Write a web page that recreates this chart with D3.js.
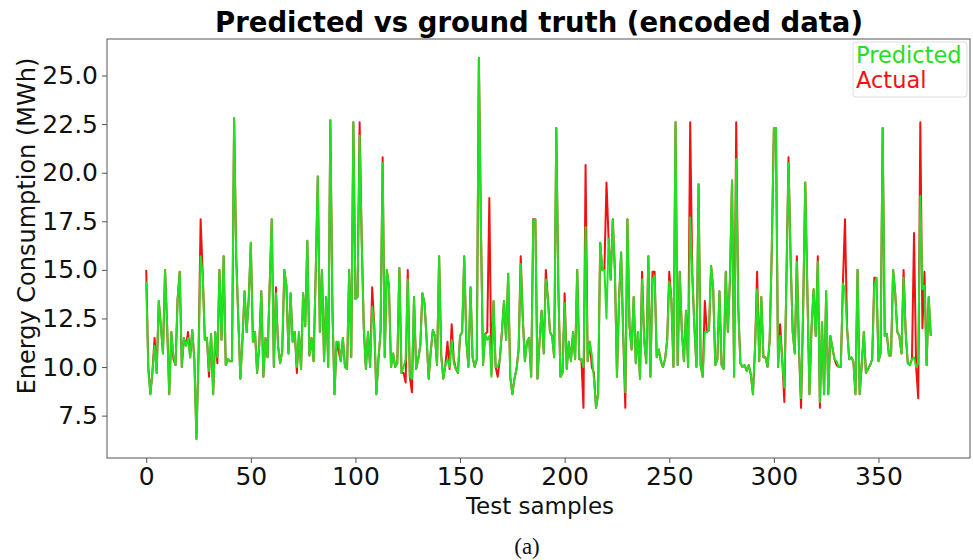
<!DOCTYPE html>
<html><head><meta charset="utf-8">
<script src="https://cdn.jsdelivr.net/npm/d3@7"></script>
<style>body{margin:0;background:#fff}svg{display:block}</style>
</head><body><svg id="c" width="973" height="560"></svg>
<script>
const actual = [
15.0,10.0,8.6,9.8,11.5,9.7,13.4,12.1,10.7,15.0,12.1,8.6,11.8,10.4,10.1,13.5,14.9,10.0,11.5,11.1,
11.8,10.5,11.9,10.4,6.3,10.6,17.6,14.8,11.4,11.5,9.5,11.7,8.6,11.8,10.2,15.0,11.4,15.7,10.1,10.4,
10.3,10.3,22.8,15.7,12.5,9.4,11.4,13.9,11.8,13.5,16.4,11.3,11.8,9.7,11.1,13.9,9.5,11.5,10.5,14.2,
17.6,10.0,14.1,11.1,10.2,10.8,15.0,14.2,10.7,13.8,11.3,11.8,9.7,11.8,9.9,13.8,12.1,16.5,10.6,11.5,
10.3,14.8,19.8,11.8,15.0,10.3,13.6,10.0,22.7,13.0,8.6,11.3,10.8,10.3,11.5,10.0,9.9,15.0,10.5,22.6,
13.5,13.6,22.6,16.5,12.0,9.9,11.8,10.0,14.1,12.1,8.6,10.4,11.8,20.8,10.5,15.0,14.2,10.0,10.7,10.0,
10.2,15.1,9.7,9.7,9.2,15.0,9.5,8.7,13.6,9.9,10.4,11.1,13.8,13.3,11.5,9.4,10.8,11.9,11.6,10.1,
15.7,10.6,9.4,10.1,11.3,9.9,12.2,10.4,9.9,9.7,11.6,11.8,15.7,11.4,10.0,14.1,10.5,10.0,10.4,25.9,
17.0,10.1,11.7,11.8,18.7,9.6,13.4,10.0,9.5,10.4,11.8,13.4,11.4,14.8,9.5,8.6,9.4,9.9,10.9,15.7,
12.5,10.3,11.3,11.5,9.5,17.6,17.6,9.4,11.3,12.9,10.7,15.0,13.5,11.8,11.6,10.5,22.3,14.0,9.5,9.7,
13.8,9.9,11.3,10.3,11.8,10.4,15.0,10.4,10.4,7.9,20.4,10.3,11.3,10.0,9.7,7.9,8.6,16.4,15.0,15.0,
19.5,16.6,14.5,17.6,15.0,9.5,13.5,15.9,11.6,7.9,17.6,12.1,10.9,13.6,10.2,11.8,9.4,14.9,11.4,10.2,
15.7,9.5,14.9,14.9,10.5,10.9,10.3,10.0,10.4,11.4,14.9,13.5,10.0,22.6,10.1,14.9,11.9,10.3,12.9,10.0,
22.6,14.8,12.1,10.0,19.4,10.1,9.5,13.4,11.8,11.9,15.2,14.0,10.1,10.4,13.9,10.1,9.9,14.9,11.8,14.5,
19.6,9.5,22.6,13.0,10.2,10.0,10.1,9.8,10.1,9.6,8.6,11.0,14.9,10.3,13.6,10.5,10.5,10.0,11.4,16.0,
22.3,22.3,10.0,12.2,10.4,8.2,14.5,20.8,15.6,11.8,10.7,15.7,10.9,7.9,13.0,19.5,14.0,8.6,12.0,14.0,
11.6,15.7,7.9,12.3,8.6,13.9,8.6,11.6,11.0,10.4,10.1,10.0,10.0,14.3,17.6,12.0,10.4,10.5,10.3,8.6,
15.0,8.6,10.1,11.8,9.7,9.9,10.1,10.4,14.6,14.6,10.3,10.7,22.3,11.6,11.7,10.6,10.6,15.0,13.8,11.8,
11.6,10.7,15.0,11.8,10.2,10.1,10.4,16.9,10.0,8.4,22.6,12.0,14.9,10.1,13.6,11.6];

const predicted = [
14.4,9.8,8.6,9.8,11.1,9.7,13.4,12.1,10.7,15.0,12.1,8.6,11.8,10.6,10.1,13.5,14.9,10.0,11.5,11.1,
11.5,10.5,11.9,10.4,6.3,10.6,15.7,14.8,11.4,11.5,9.8,11.7,8.6,11.8,10.5,15.0,11.4,15.7,10.1,10.4,
10.3,10.3,22.8,15.7,12.5,9.4,11.4,13.9,11.8,13.5,16.4,11.3,11.8,9.7,11.1,13.9,9.5,11.5,10.5,14.2,
17.6,10.0,13.8,11.1,10.2,10.8,15.0,14.2,10.7,13.8,11.3,11.8,10.0,11.8,9.9,13.8,12.1,16.5,10.6,11.5,
10.3,14.8,19.8,11.8,15.0,10.3,13.6,10.0,22.7,13.0,8.6,11.3,11.3,10.3,11.5,10.0,9.9,15.0,10.5,22.6,
13.5,13.6,21.9,16.5,12.0,9.9,11.8,10.0,13.1,12.1,8.6,10.4,11.8,20.5,10.5,15.0,14.2,10.0,10.7,10.0,
10.2,15.1,9.7,10.0,10.4,14.5,9.5,9.4,13.6,9.9,10.4,11.1,13.8,13.3,11.5,9.4,10.8,11.9,11.6,10.1,
15.7,10.6,9.4,10.1,10.4,10.0,11.4,10.2,9.9,9.7,11.6,11.8,15.7,11.4,10.0,14.1,10.5,10.0,10.4,25.9,
17.0,10.1,11.7,11.4,11.6,9.5,13.4,10.0,10.0,10.4,11.8,13.4,11.4,14.8,9.5,8.6,9.4,9.9,10.9,15.3,
12.5,10.3,11.3,11.5,9.5,17.5,17.6,9.4,11.3,12.9,10.7,14.5,13.5,11.8,11.6,10.5,22.3,14.0,9.5,9.7,
13.3,9.9,11.3,10.3,11.8,10.4,15.0,10.4,10.4,10.0,17.2,10.3,11.3,10.6,9.4,7.9,8.6,16.4,15.0,15.0,
12.5,16.6,14.5,17.6,15.0,9.5,13.5,15.9,11.6,8.7,17.6,12.1,10.9,13.6,10.2,11.8,9.4,14.5,11.4,10.2,
15.7,9.5,14.5,14.7,10.5,10.9,10.3,10.0,10.4,11.4,14.4,13.5,10.0,22.6,10.1,14.9,11.9,10.3,12.9,10.0,
17.7,14.8,12.1,10.0,19.4,10.1,9.5,11.8,11.8,11.9,15.2,14.0,10.1,10.4,13.9,10.1,9.9,14.9,11.8,14.5,
19.6,9.5,20.7,13.0,10.2,10.0,10.1,9.8,10.1,9.6,8.6,11.0,14.0,10.3,13.6,10.5,10.5,10.0,11.4,16.0,
22.3,22.3,10.0,11.6,10.4,8.95,14.5,20.5,15.6,11.8,10.7,15.4,10.9,8.4,13.0,19.5,14.0,8.6,12.0,14.0,
11.6,15.4,8.2,12.3,8.6,13.9,8.6,11.6,11.0,10.4,10.3,10.0,10.0,14.3,14.0,12.0,10.4,10.5,10.3,8.6,
15.0,8.6,10.1,11.8,9.7,9.9,10.1,10.4,14.2,14.6,10.3,10.7,22.3,11.6,11.7,10.6,10.6,15.0,13.8,11.8,
11.6,10.7,14.6,11.8,10.2,10.1,10.4,10.5,10.0,10.2,18.8,14.0,14.2,10.1,13.6,11.6];

const xTicks = [0, 50, 100, 150, 200, 250, 300, 350];
const yTicks = [7.5, 10.0, 12.5, 15.0, 17.5, 20.0, 22.5, 25.0];
const seriesNames = ["Predicted", "Actual"];
const titleText = "Predicted vs ground truth (encoded data)";
const xLabel = "Test samples";
const yLabel = "Energy Consumption (MWh)";
const caption = "(a)";

const svg = d3.select("#c");
const m = {left: 107, top: 39, right: 970, bottom: 458};
const n = actual.length;
const xPad = (n - 1) * 0.05;
const x = d3.scaleLinear().domain([-xPad, n - 1 + xPad]).range([m.left, m.right]);
const all = actual.concat(predicted);
const [lo, hi] = d3.extent(all);
const yPad = (hi - lo) * 0.05;
const y = d3.scaleLinear().domain([lo - yPad, hi + yPad]).range([m.bottom, m.top]);

const font = "DejaVu Sans, sans-serif";
const RED = "#f01212", GREEN = "#22e022";

// lines
const line = d3.line().x((d, i) => x(i)).y(d => y(d));
svg.append("path").datum(actual).attr("d", line).attr("fill", "none")
  .attr("stroke", RED).attr("stroke-width", 2).attr("stroke-linejoin", "round");
svg.append("path").datum(predicted).attr("d", line).attr("fill", "none")
  .attr("stroke", GREEN).attr("stroke-width", 2).attr("stroke-linejoin", "round");

// frame
svg.append("rect").attr("x", m.left).attr("y", m.top)
  .attr("width", m.right - m.left).attr("height", m.bottom - m.top)
  .attr("fill", "none").attr("stroke", "#555").attr("stroke-width", 1);

// axes
const xAxis = svg.append("g").attr("transform", `translate(0,${m.bottom})`)
  .call(d3.axisBottom(x).tickValues(xTicks).tickSize(5).tickPadding(4).tickFormat(d3.format("d")));
const yAxis = svg.append("g").attr("transform", `translate(${m.left},0)`)
  .call(d3.axisLeft(y).tickValues(yTicks).tickSize(5).tickPadding(4).tickFormat(d3.format(".1f")));
[xAxis, yAxis].forEach(a => {
  a.select(".domain").remove();
  a.selectAll("line").attr("stroke", "#555");
  a.selectAll("text").attr("font-family", font).attr("font-size", 25).attr("fill", "#111");
});

// title and labels
svg.append("text").attr("x", 539).attr("y", 32).attr("text-anchor", "middle")
  .attr("font-family", font).attr("font-weight", "bold").attr("font-size", 27.5).attr("fill", "#000")
  .text(titleText);
svg.append("text").attr("x", 540).attr("y", 514).attr("text-anchor", "middle")
  .attr("font-family", font).attr("font-size", 23).attr("fill", "#111").text(xLabel);
svg.append("text").attr("transform", "translate(35,226) rotate(-90)").attr("text-anchor", "middle")
  .attr("font-family", font).attr("font-size", 24).attr("fill", "#111").text(yLabel);
svg.append("text").attr("x", 527).attr("y", 554).attr("text-anchor", "middle")
  .attr("font-family", "Liberation Serif, serif").attr("font-size", 23).attr("fill", "#111").text(caption);

// legend
const lg = svg.append("g");
lg.append("rect").attr("x", 853).attr("y", 42).attr("width", 114).attr("height", 55)
  .attr("rx", 3).attr("fill", "#fff").attr("fill-opacity", 0.8).attr("stroke", "#ddd");
const colors = [GREEN, RED];
seriesNames.forEach((s, i) => {
  lg.append("text").attr("x", 856).attr("y", 63 + i * 25).attr("font-family", font)
    .attr("font-size", 22.5).attr("fill", colors[i]).text(s);
});
</script></body></html>
